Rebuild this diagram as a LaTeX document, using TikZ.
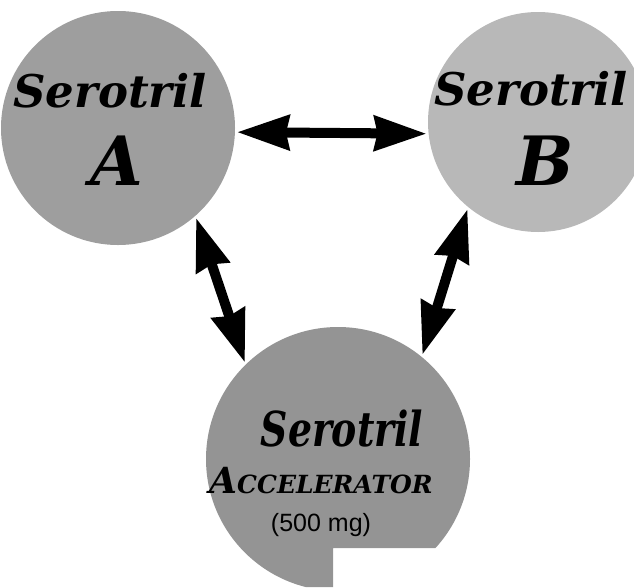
\documentclass[tikz,border=0pt]{standalone}
\usepackage{fontspec}
\setsansfont{Liberation Sans}
\newfontfamily\brandfont{DejaVu Serif}
\usetikzlibrary{arrows.meta}
\begin{document}
\begin{tikzpicture}[x=1pt, y=-1pt,
  blob/.style={circle, inner sep=0pt, outer sep=2pt},
  brand/.style={anchor=base, font=\brandfont\bfseries\itshape\fontsize{45}{50}\selectfont},
  letter/.style={anchor=base, font=\brandfont\bfseries\itshape\fontsize{68}{74}\selectfont},
  arrow/.style={{Stealth[length=52pt,width=34pt,inset=3pt]}-{Stealth[length=52pt,width=34pt,inset=3pt]}, line width=10pt}
]
\useasboundingbox (0,0) rectangle (634,587);
\clip (0,0) rectangle (634,587);
\node[blob, fill=black!38, minimum size=234pt] (blobA) at (118,128) {};
\node[blob, fill=black!28, minimum size=220pt] (blobB) at (538,122) {};
\begin{scope}
\clip (0,0) -- (634,0) -- (634,548) -- (333,548) -- (333,587) -- (0,587) -- cycle;
\node[blob, fill=black!42, minimum size=264pt] (blobC) at (338,459) {};
\end{scope}
\node[brand] (serA) at (110,107) {Serotril};
\node[letter] (letA) at (117,185) {A};
\node[brand] (serB) at (531,105) {Serotril};
\node[letter] (letB) at (545,185) {B};
\node[brand] (serC) at (342,446) {\scalebox{.84}[1.07]{Serotril}};
\node[anchor=base, font=\brandfont\bfseries\itshape] (accel) at (321,493) {{\fontsize{36}{40}\selectfont A}{\fontsize{25}{28}\selectfont CCELERATOR}};
\node[anchor=base, font=\sffamily\fontsize{25}{28}\selectfont] (dose) at (321,531) {(500 mg)};
\draw[arrow] (blobA.-2) -- (blobB.186);
\draw[arrow] (blobA.-49) -- (blobC.134);
\draw[arrow] (blobB.231) -- (blobC.51);
\end{tikzpicture}
\end{document}
